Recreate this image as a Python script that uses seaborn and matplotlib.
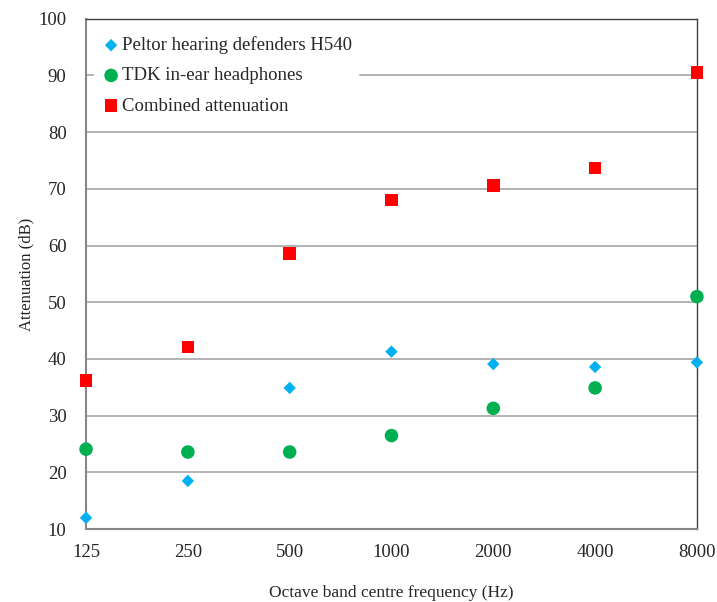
import pandas as pd
import seaborn as sns
import matplotlib.pyplot as plt

# Octave band centre frequencies (Hz)
freqs = [125, 250, 500, 1000, 2000, 4000, 8000]

# Attenuation values (dB)
peltor = [12.0, 18.5, 34.9, 41.3, 39.1, 38.6, 39.4]
tdk = [24.1, 23.6, 23.6, 26.5, 31.3, 34.9, 51.0]
combined = [36.2, 42.1, 58.6, 68.0, 70.6, 73.7, 90.5]

series_names = ["Peltor hearing defenders H540", "TDK in-ear headphones", "Combined attenuation"]

df = pd.DataFrame({
    "freq": freqs * 3,
    "att": peltor + tdk + combined,
    "series": [series_names[0]] * 7 + [series_names[1]] * 7 + [series_names[2]] * 7,
})

sns.set_style("white")
plt.rcParams["font.family"] = ["Liberation Serif", "DejaVu Serif"]

fig = plt.figure(figsize=(7.17, 6.02), dpi=100)
ax = fig.add_axes([0.12, 0.121, 0.852, 0.848])

styles = {
    series_names[0]: ("D", "#00B0F0", 40),
    series_names[1]: ("o", "#00B050", 95),
    series_names[2]: ("s", "#FF0000", 80),
}
for name, (mk, col, sz) in styles.items():
    sub = df[df["series"] == name]
    sns.scatterplot(data=sub, x="freq", y="att", marker=mk, color=col, s=sz,
                    edgecolor="none", label=name, ax=ax, clip_on=False, zorder=3)

ax.set_xscale("log", base=2)
ax.set_xlim(125, 8000)
ax.set_xticks(freqs)
ax.set_xticklabels([str(f) for f in freqs])
ax.minorticks_off()
ax.set_ylim(10, 100)
ax.set_yticks(range(10, 101, 10))

ax.yaxis.grid(True, color="#a6a6a6", linewidth=1.2)
ax.xaxis.grid(False)
ax.set_axisbelow(True)

for side in ["left", "bottom"]:
    ax.spines[side].set_color("#868686")
    ax.spines[side].set_linewidth(1.5)
for side in ["top", "right"]:
    ax.spines[side].set_color("#404040")
    ax.spines[side].set_linewidth(1.0)

ax.tick_params(axis="both", direction="out", length=6, width=1, color="#868686",
               labelsize=13.5)
ax.tick_params(axis="x", pad=5)
ax.tick_params(axis="y", pad=8)

ax.set_xlabel("Octave band centre frequency (Hz)", fontsize=12.5, labelpad=17)
ax.set_ylabel("Attenuation (dB)", fontsize=12, labelpad=3)

leg = ax.legend(loc="upper left", bbox_to_anchor=(-0.002, 0.995), frameon=True,
                fontsize=13.5, handletextpad=0.0, labelspacing=0.7,
                borderpad=0.3, handlelength=1.2, fancybox=False)
leg.get_frame().set_edgecolor("white")
leg.get_frame().set_facecolor("white")
leg.get_frame().set_alpha(1)

plt.savefig("out.png", dpi=100)
